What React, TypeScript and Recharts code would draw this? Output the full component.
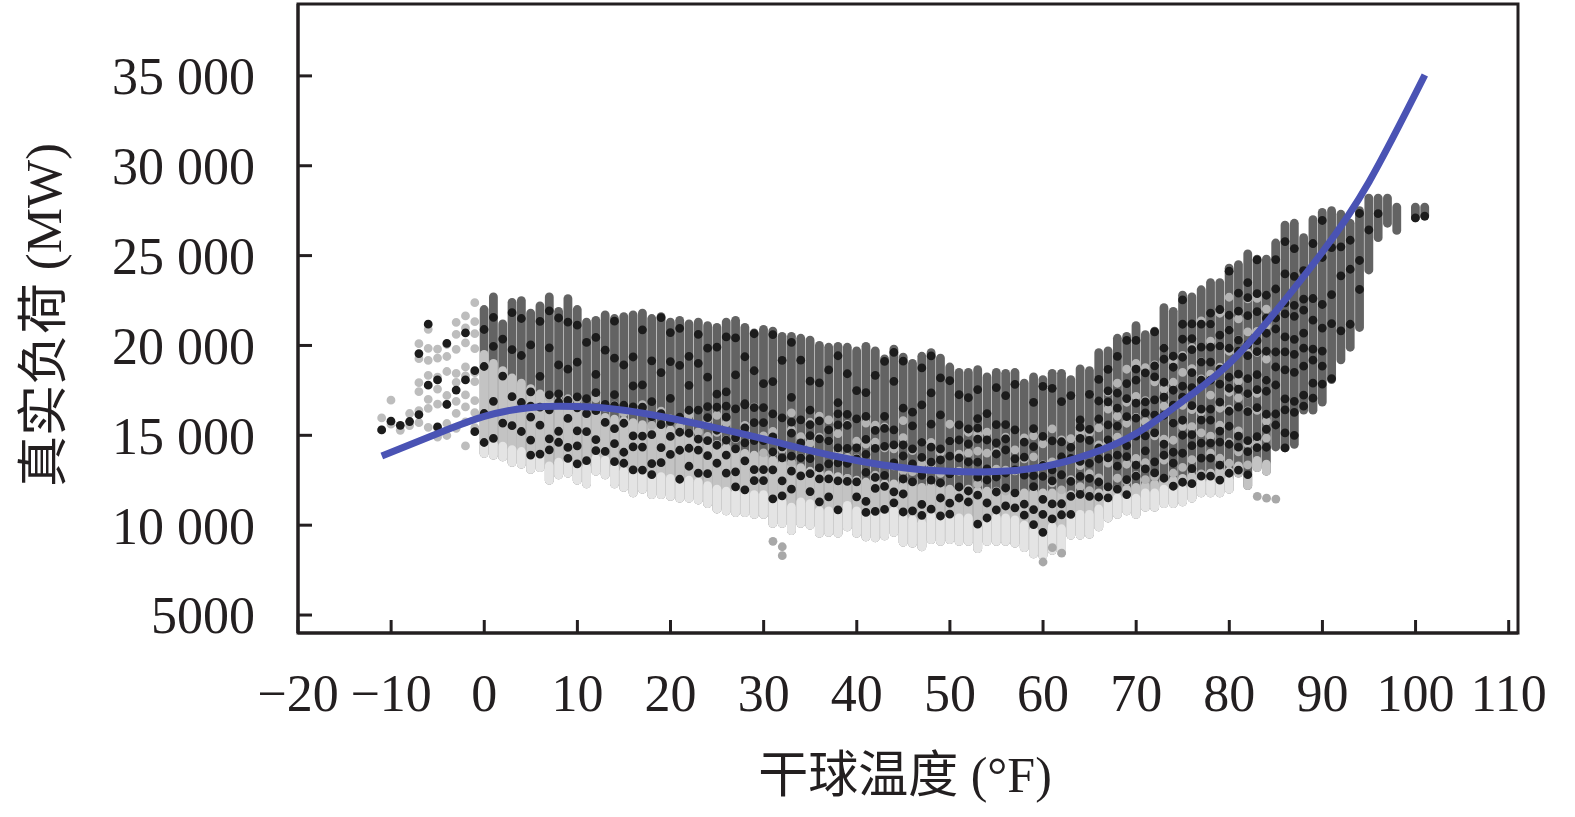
import React from 'react';
import { ComposedChart, Bar, Line, Scatter, XAxis, YAxis, ReferenceArea, Label } from 'recharts';

// 干球温度 (°F) of each column of readings
const temps = [
  -11, -10, -9, -8, -7, -6, -5, -4, -3, -2, -1,
  0, 1, 2, 3, 4, 5, 6, 7, 8, 9,
  10, 11, 12, 13, 14, 15, 16, 17, 18, 19,
  20, 21, 22, 23, 24, 25, 26, 27, 28, 29,
  30, 31, 32, 33, 34, 35, 36, 37, 38, 39,
  40, 41, 42, 43, 44, 45, 46, 47, 48, 49,
  50, 51, 52, 53, 54, 55, 56, 57, 58, 59,
  60, 61, 62, 63, 64, 65, 66, 67, 68, 69,
  70, 71, 72, 73, 74, 75, 76, 77, 78, 79,
  80, 81, 82, 83, 84, 85, 86, 87, 88, 89,
  90, 91, 92, 93, 94, 95, 96, 97, 98, 99,
  100, 101,
];

// lowest load (MW) in each column
const loadMin = [
  15300, 15400, 15000, 15100, 15200, 15000, 14900, 14600, 14500, 14300, 14200,
  14000, 13900, 13800, 13500, 13400, 13100, 13200, 12500, 12800, 12900,
  12500, 12300, 13000, 12800, 12300, 12100, 11800, 12000, 11700, 11700,
  11600, 11500, 11500, 11400, 11200, 10900, 10800, 10700, 10700, 10600,
  10600, 10100, 10100, 9700, 10100, 10000, 9550, 9600, 9550, 9900,
  9550, 9350, 9300, 9400, 9600, 9050, 9000, 8800, 9200, 9100,
  9200, 9100, 9100, 8700, 9100, 9100, 9100, 9000, 8750, 8400,
  8300, 8600, 8500, 9450, 9450, 9500, 9900, 10400, 10600, 10800,
  10600, 11000, 11000, 11200, 11200, 11300, 11500, 11800, 11800, 11800,
  12000, 12900, 12200, 13200, 13000, 14350, 14300, 14500, 16400, 16400,
  16850, 18100, 19200, 19900, 21000, 24200, 26000, 26800, 26400, null,
  27100, 27200,
];

// highest load (MW) in each column
const loadMax = [
  16800, 17600, 15600, 16400, 20600, 21200, 20300, 20700, 21800, 22400, 22800,
  22000, 22700, 21200, 22400, 22500, 21800, 22200, 22700, 21900, 22600,
  22000, 21300, 21400, 21700, 21500, 21600, 21700, 21800, 21500, 21600,
  21300, 21400, 21200, 21300, 21100, 21000, 21300, 21400, 21000, 20700,
  20900, 20800, 20500, 20500, 20400, 20300, 20000, 19900, 19950, 19900,
  19700, 19950, 19700, 19250, 19800, 19350, 19000, 19400, 19600, 19300,
  18800, 18500, 18500, 18650, 18250, 18500, 18450, 18500, 17900, 18250,
  18100, 18450, 18450, 18100, 18700, 18600, 19600, 19700, 20400, 20500,
  21100, 20600, 20800, 22100, 21900, 22800, 22700, 23100, 23500, 23500,
  24300, 24500, 25100, 24800, 24800, 25700, 26700, 26800, 26000, 27000,
  27400, 27500, 27300, 26800, 27500, 28200, 28200, 28200, 27700, null,
  27700, 27700,
];

// upper edge of the light-grey readings
const lightTop = [
  16800, 17600, 15600, 16400, 20600, 21200, 20300, 20700, 21800, 22400, 22800,
  19500, 19000, 18600, 18200, 17900, 17600, 17300, 17100, 16900, 16700,
  16500, 16300, 16100, 16000, 15900, 15800, 15700, 15600, 15500, 15400,
  15300, 15100, 14900, 14800, 14600, 14500, 14300, 14200, 14000, 13900,
  13800, 13600, 13400, 13300, 13200, 13000, 12900, 12800, 12700, 12600,
  12500, 12400, 12400, 12300, 12300, 12200, 12200, 12100, 12100, 12100,
  12000, 12000, 12000, 11900, 11900, 11900, 11900, 11800, 11800, 11800,
  11800, 11800, 11800, 11700, 11700, 11700, 11800, 11900, 12000, 12000,
  12100, 12200, 12300, 12400, 12500, 12600, 12700, 12800, 12900, 13000,
  13000, 13300, 12800, 13600, 13400, 14350, 14300, 14500, 16400, 16400,
  16850, 18100, 19200, 19900, 21000, 24200, 26000, 26800, 26400, null,
  27100, 27200,
];

// upper edge of the palest readings
const paleTop = [
  15300, 15400, 15000, 15100, 15600, 15400, 15300, 15000, 14900, 14800, 14700,
  14600, 14500, 14400, 14200, 14100, 13900, 13900, 13300, 13500, 13600,
  13300, 13200, 13700, 13600, 13200, 13000, 12800, 12900, 12700, 12700,
  12600, 12500, 12500, 12400, 12200, 12000, 11900, 11800, 11800, 11700,
  11700, 11300, 11300, 11000, 11300, 11200, 10800, 10800, 10800, 11100,
  10800, 10600, 10600, 10600, 10800, 10400, 10300, 10100, 10500, 10400,
  10500, 10400, 10400, 10000, 10400, 10400, 10400, 10300, 10000, 9700,
  9600, 9900, 9800, 10600, 10600, 10600, 10900, 11300, 11500, 11700,
  11500, 11800, 11800, 12000, 12000, 12000, 12200, 12400, 12400, 12400,
  12500, 12900, 12200, 13200, 13000, 14350, 14300, 14500, 16400, 16400,
  16850, 18100, 19200, 19900, 21000, 24200, 26000, 26800, 26400, null,
  27100, 27200,
];

// upper edge of the densely mixed (black) readings
const mixTop = [
  15300, 15400, 15000, 15100, 15200, 15000, 14900, 14600, 14500, 14300, 14200,
  14000, 13900, 13800, 13500, 13400, 16800, 17000, 17200, 17300, 17400,
  17400, 17500, 17500, 17400, 17400, 17300, 17300, 17200, 17200, 17100,
  17100, 17000, 17000, 17000, 16900, 16900, 16800, 16800, 16700, 16700,
  16600, 16600, 16500, 16500, 16400, 16400, 16300, 16300, 16200, 16200,
  16100, 16100, 16000, 16000, 16000, 15900, 15900, 15800, 15800, 15800,
  15700, 15700, 15700, 15600, 15600, 15600, 15600, 15500, 15500, 15500,
  15500, 15500, 15600, 15600, 15800, 16000, 17500, 18000, 18500, 19000,
  19500, 19000, 19200, 20500, 20400, 21200, 21200, 21600, 22000, 22000,
  22800, 23000, 23500, 23200, 23200, 24000, 24500, 24500, 23500, 22000,
  21000, 18100, 19200, 19900, 21000, 24200, 26000, 26800, 26400, null,
  27100, 27200,
];

// isolated readings below the columns
const outlierTemps = [31, 32, 32, 60, 61, 62, 83, 84, 85];
const outlierLoads = [9100, 8800, 8300, 7950, 8750, 8450, 11600, 11500, 11450];

// fitted curve
const curveTemps = [-11, -5, 0, 5, 10, 15, 20, 25, 30, 35, 40, 45, 50, 55, 60, 65, 70, 75, 80, 85, 90, 95, 101];
const curveLoads = [13850, 15100, 16050, 16550, 16600, 16400, 15950, 15400, 14800, 14150, 13600, 13200, 13000, 12980, 13250, 13950, 15100, 16900, 19000, 21900, 25200, 29100, 35050];

const xTicks = [-20, -10, 0, 10, 20, 30, 40, 50, 60, 70, 80, 90, 100, 110];
const yTicks = [5000, 10000, 15000, 20000, 25000, 30000, 35000];

const X_DOMAIN: [number, number] = [-20, 111];
const Y_DOMAIN: [number, number] = [4000, 39000];
const INK = '#231f20';
const FONT = "'Liberation Serif', 'Times New Roman', 'Noto Sans CJK SC', serif";

type Range = [number, number];
type Row = {
  t: number;
  full?: Range;
  light?: Range;
  lightSparse?: Range;
  leftBlack?: Range;
  pale?: Range;
  lightSpr?: Range;
  dense?: Range;
  sparse?: Range;
};

const rows: Row[] = [];
temps.forEach((t, i) => {
  const lo = loadMin[i];
  const hi = loadMax[i];
  if (lo == null || hi == null) return;
  const lt = lightTop[i] as number;
  const pt = paleTop[i] as number;
  const mt = mixTop[i] as number;
  const r: Row = { t };
  if (lt >= hi) {
    // a column of scattered light readings only, with a few dark ones
    r.lightSparse = [lo, hi];
    r.leftBlack = [pt, hi];
  } else {
    r.full = [lo, hi];
    if (lt > lo) r.light = [lo, lt];
    if (pt > lo) r.pale = [lo, pt];
    if (mt > lt && lt > lo) r.lightSpr = [lt, mt];
    if (mt > pt) r.dense = [pt, mt];
    const sLo = Math.max(pt, mt);
    if (hi > sLo) r.sparse = [sLo, hi];
  }
  rows.push(r);
});

const curveData = curveTemps.map((t, i) => ({ t, load: curveLoads[i] }));
const outlierData = outlierTemps.map((t, i) => ({ t, load: outlierLoads[i] }));

// dot patterns (style only): irregular gaps so the dots look scattered
const PAT_DENSE = [15, 23, 11, 29, 18];
const PAT_SPARSE = [29, 47, 37, 55];
const PAT_LIGHT = [21, 33, 17, 41];
const PAT_LEFT = [12, 19, 9, 24, 15];
const PAT_LEFT_BLACK = [61, 83, 47];

const columnShape = (key: keyof Row, color: string, pat?: number[], a = 37, b = 11) => (props: any) => {
  const { x, y, width, height, index, payload } = props;
  if (!payload || payload[key] == null) return <g />;
  if (x == null || y == null || isNaN(x) || isNaN(y)) return <g />;
  const cx = x + (width || 0) / 2;
  const y1 = y + (height || 0);
  let dash: string | undefined;
  let off: number | undefined;
  if (pat) {
    const total = pat.reduce((s, v) => s + v, 0);
    dash = pat.map((g) => `0 ${g}`).join(' ');
    const k = index || 0;
    off = (k * a + k * k * b) % total;
  }
  return (
    <line
      x1={cx}
      x2={cx}
      y1={y1}
      y2={y}
      stroke={color}
      strokeWidth={8.8}
      strokeLinecap="round"
      strokeDasharray={dash}
      strokeDashoffset={off}
    />
  );
};

const xFmt = (v: number) => (v < 0 ? `\u2212${Math.abs(v)}` : `${v}`);
const yFmt = (v: number) => (v >= 10000 ? `${Math.floor(v / 1000)} ${String(v % 1000).padStart(3, '0')}` : `${v}`);

const tickStyle = { fontSize: 52, fill: INK, fontFamily: FONT };

const hiddenAxes = ['light', 'lightSparse', 'leftBlack', 'pale', 'lightSpr', 'dense', 'sparse'];

export default function App() {
  return (
    <div style={{ position: 'absolute', left: 0, top: 0, width: 1575, height: 817, background: '#fff' }}>
      <ComposedChart
        width={1575}
        height={817}
        data={rows}
        margin={{ top: 4, right: 57, bottom: 124, left: 218 }}
        style={{ fontFamily: FONT }}
      >
        <XAxis
          dataKey="t"
          type="number"
          domain={X_DOMAIN}
          allowDataOverflow
          ticks={xTicks}
          tickFormatter={xFmt}
          height={60}
          tickSize={-13}
          tickMargin={54}
          axisLine={{ stroke: INK, strokeWidth: 3 }}
          tickLine={{ stroke: INK, strokeWidth: 3 }}
          tick={tickStyle}
          interval={0}
        >
          <Label
            content={() => (
              <text x={905} y={775} textAnchor="middle" dominantBaseline="central" fontSize={50} fill={INK} fontFamily={FONT}>
                干球温度 (°F)
              </text>
            )}
          />
        </XAxis>
        {hiddenAxes.map((id) => (
          <XAxis key={id} xAxisId={id} dataKey="t" type="number" domain={X_DOMAIN} allowDataOverflow hide />
        ))}
        <YAxis
          type="number"
          domain={Y_DOMAIN}
          allowDataOverflow
          ticks={yTicks}
          tickFormatter={yFmt}
          width={80}
          tickSize={-14}
          tickMargin={57}
          axisLine={{ stroke: INK, strokeWidth: 3 }}
          tickLine={{ stroke: INK, strokeWidth: 3 }}
          tick={tickStyle}
          interval={0}
        >
          <Label
            content={() => (
              <text
                x={44}
                y={315}
                transform="rotate(-90, 44, 315)"
                textAnchor="middle"
                dominantBaseline="central"
                fontSize={51}
                fill={INK}
                fontFamily={FONT}
              >
                真实负荷 (MW)
              </text>
            )}
          />
        </YAxis>
        <ReferenceArea
          x1={X_DOMAIN[0]}
          x2={X_DOMAIN[1]}
          y1={Y_DOMAIN[0]}
          y2={Y_DOMAIN[1]}
          fill="none"
          fillOpacity={0}
          stroke={INK}
          strokeWidth={3}
          ifOverflow="visible"
        />
        <Bar dataKey="full" barSize={9} isAnimationActive={false} shape={columnShape('full', '#636363')} activeBar={false} />
        <Bar xAxisId="light" dataKey="light" barSize={9} isAnimationActive={false} shape={columnShape('light', '#c3c3c3')} activeBar={false} />
        <Bar xAxisId="lightSparse" dataKey="lightSparse" barSize={9} isAnimationActive={false} shape={columnShape('lightSparse', '#bdbdbd', PAT_LEFT, 29, 7)} activeBar={false} />
        <Bar xAxisId="leftBlack" dataKey="leftBlack" barSize={9} isAnimationActive={false} shape={columnShape('leftBlack', '#1c1c1c', PAT_LEFT_BLACK, 41, 13)} activeBar={false} />
        <Bar xAxisId="pale" dataKey="pale" barSize={9} isAnimationActive={false} shape={columnShape('pale', '#e4e4e4')} activeBar={false} />
        <Bar xAxisId="lightSpr" dataKey="lightSpr" barSize={9} isAnimationActive={false} shape={columnShape('lightSpr', '#b4b4b4', PAT_LIGHT, 43, 5)} activeBar={false} />
        <Bar xAxisId="dense" dataKey="dense" barSize={9} isAnimationActive={false} shape={columnShape('dense', '#1c1c1c', PAT_DENSE, 37, 11)} activeBar={false} />
        <Bar xAxisId="sparse" dataKey="sparse" barSize={9} isAnimationActive={false} shape={columnShape('sparse', '#1c1c1c', PAT_SPARSE, 53, 17)} activeBar={false} />
        <Scatter
          data={outlierData}
          dataKey="load"
          isAnimationActive={false}
          shape={(p: any) => <circle cx={p.cx} cy={p.cy} r={4.4} fill="#a8a8a8" />}
        />
        <Line
          data={curveData}
          dataKey="load"
          type="natural"
          stroke="#4a53b4"
          strokeWidth={7}
          dot={false}
          activeDot={false}
          isAnimationActive={false}
        />
      </ComposedChart>
    </div>
  );
}
